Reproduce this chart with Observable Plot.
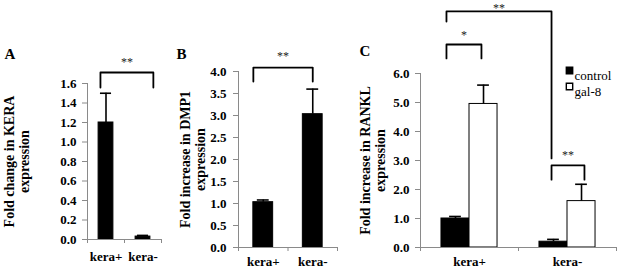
<!DOCTYPE html>
<html><head><meta charset="utf-8">
<script src="https://cdn.jsdelivr.net/npm/d3@7"></script>
<script src="https://cdn.jsdelivr.net/npm/@observablehq/plot@0.6"></script>
<style>
html,body{margin:0;padding:0;background:#fff;}
#fig{position:relative;width:617px;height:269px;overflow:hidden;font-family:"Liberation Serif","Times New Roman",serif;}
#fig svg{position:absolute;top:0;overflow:visible;}
#fig svg text{font-family:"Liberation Serif","Times New Roman",serif;}
</style></head><body><div id="fig"></div>
<script>
// ---------- Panel A ----------
const catsA = ["kera+", "kera-"];
const valA = [1.2, 0.03];
const errA = [0.3, 0.012];
const ticksA = [0, 0.2, 0.4, 0.6, 0.8, 1.0, 1.2, 1.4, 1.6];
const titleA = "Fold change in KERA\nexpression";
const bracketsA = [{from: -0.15, to: 1.28, top: 1.713, left: 1.559, right: 1.559, label: "**"}];

// ---------- Panel B ----------
const catsB = ["kera+", "kera-"];
const valB = [1.03, 3.03];
const errB = [0.05, 0.57];
const ticksB = [0, 0.5, 1.0, 1.5, 2.0, 2.5, 3.0, 3.5, 4.0];
const titleB = "Fold increase in DMP1\nexpression";
const bracketsB = [{from: -0.2, to: 1.0, top: 4.09, left: 3.77, right: 3.77, label: "**"}];

// ---------- Panel C ----------
const groupsC = ["kera+", "kera-"];
const seriesC = ["control", "gal-8"];
const controlC = [1.0, 0.2];
const controlErrC = [0.07, 0.08];
const gal8C = [4.95, 1.6];
const gal8ErrC = [0.65, 0.58];
const ticksC = [0, 1, 2, 3, 4, 5, 6];
const titleC = "Fold increase in RANKL\nexpression";
const bracketsC = [
  {from: -0.235, to: 0.122, top: 7.0, left: 6.52, right: 6.52, label: "*"},
  {from: -0.235, to: 0.837, top: 8.14, left: 7.79, right: 3.07, label: "**"},
  {from: 0.837, to: 1.173, top: 2.83, left: 2.34, right: 2.34, label: "**"}
];
// vertical offset (px) of each star label above its bracket
const starOffsetA = [-10];
const starOffsetB = [-11];
const starOffsetC = [-9, -3, -10];

const FONT = "'Liberation Serif', 'Times New Roman', serif";
const GRAY = "#8a8a8a";

function panel({left, width, marginLeft, marginRight, marginTop, marginBottom,
                cats, rows, yMax, ticks, title, titleDx, letter, letterDx, letterDy,
                brackets, starOffset, capHalf, tickPad, labelPad, extra = []}) {
  const n = cats.length;
  const bounds = d3.range(n + 1).map(i => i - 0.5);
  const bracketLines = brackets.flatMap((b, k) => [
    {k, x: b.from, y: b.left}, {k, x: b.from, y: b.top},
    {k, x: b.to, y: b.top}, {k, x: b.to, y: b.right}
  ]);
  const fmt = d3.format(".1f");
  const svg = Plot.plot({
    width, height: 269, marginLeft, marginRight, marginTop, marginBottom,
    style: `font-family: ${FONT}; font-size: 13px; font-weight: bold; color: black; background: transparent; overflow: visible;`,
    x: {type: "linear", domain: [-0.5, n - 0.5]},
    y: {domain: [0, yMax]},
    marks: [
      Plot.rectY(rows, {x1: "x1", x2: "x2", y1: 0, y2: "v", fill: "fill", stroke: "black", strokeWidth: 1}),
      Plot.ruleX(rows, {x: d => (d.x1 + d.x2) / 2, y1: "v", y2: d => d.v + d.e, stroke: "black", strokeWidth: 1.6}),
      Plot.ruleY(rows, {y: d => d.v + d.e, x1: d => (d.x1 + d.x2) / 2 - capHalf, x2: d => (d.x1 + d.x2) / 2 + capHalf, stroke: "black", strokeWidth: 1.6}),
      Plot.ruleX([-0.5], {y1: 0, y2: yMax, stroke: GRAY, strokeWidth: 1}),
      Plot.ruleY([0], {x1: -0.5, x2: n - 0.5, stroke: GRAY, strokeWidth: 1}),
      // y ticks (marks) and labels
      Plot.axisY({ticks, tickFormat: () => "", tickSize: 5, stroke: GRAY, label: null}),
      Plot.text(ticks, {x: -0.5, y: d => d, text: d => fmt(d), dx: -(5 + tickPad), textAnchor: "end", lineAnchor: "middle",
                  fontFamily: FONT, fontWeight: "bold", fontSize: 13, fill: "black"}),
      // x ticks at category boundaries and category labels
      Plot.axisX({ticks: bounds, tickFormat: () => "", tickSize: 4, stroke: GRAY, label: null}),
      Plot.text(d3.range(n), {x: d => d, y: 0, text: i => cats[i], dy: labelPad, lineAnchor: "top",
                  fontFamily: FONT, fontWeight: "bold", fontSize: 13, fill: "black"}),
      // significance brackets
      Plot.line(bracketLines, {x: "x", y: "y", z: "k", stroke: "black", strokeWidth: 1.8, curve: "linear"}),
      ...brackets.map((b, k) => Plot.text([b], {x: d => (d.from + d.to) / 2, y: "top", text: "label", dy: starOffset[k],
                  fontFamily: FONT, fontSize: 12, fontWeight: "normal", fill: "#222", lineAnchor: "middle"})),
      Plot.text([title], {frameAnchor: "left", rotate: -90, dx: titleDx, text: d => d, lineHeight: 1.05,
                  fontFamily: FONT, fontSize: 14, fontWeight: "bold", textAnchor: "middle", fill: "black"}),
      Plot.text([letter], {frameAnchor: "top-left", dx: letterDx, dy: letterDy, text: d => d,
                  fontFamily: FONT, fontSize: 15, fontWeight: "bold", fill: "black"}),
      ...extra
    ]
  });
  svg.style.left = left + "px";
  document.getElementById("fig").appendChild(svg);
}

// Panel A
panel({
  left: 0, width: 170, marginLeft: 87, marginRight: 9, marginTop: 83, marginBottom: 30,
  cats: catsA,
  rows: catsA.map((c, i) => ({x1: i - 0.2, x2: i + 0.2, v: valA[i], e: errA[i], fill: "black"})),
  yMax: 1.6, ticks: ticksA, title: titleA, titleDx: -71, letter: "A", letterDx: -83, letterDy: -35,
  brackets: bracketsA, starOffset: starOffsetA, capHalf: 0.15, tickPad: 6, labelPad: 12
});

// Panel B
panel({
  left: 170, width: 175, marginLeft: 68, marginRight: 8, marginTop: 71, marginBottom: 22,
  cats: catsB,
  rows: catsB.map((c, i) => ({x1: i - 0.2, x2: i + 0.2, v: valB[i], e: errB[i], fill: "black"})),
  yMax: 4.0, ticks: ticksB, title: titleB, titleDx: -46, letter: "B", letterDx: -62, letterDy: -23,
  brackets: bracketsB, starOffset: starOffsetB, capHalf: 0.12, tickPad: 7, labelPad: 9
});

// Panel C
const rowsC = groupsC.flatMap((g, i) => [
  {x1: i - 0.286, x2: i, v: controlC[i], e: controlErrC[i], fill: "black"},
  {x1: i, x2: i + 0.286, v: gal8C[i], e: gal8ErrC[i], fill: "white"}
]);
const legendC = [
  {name: seriesC[0], fill: "black", dy: -3},
  {name: seriesC[1], fill: "white", dy: 13}
];
panel({
  left: 345, width: 272, marginLeft: 75, marginRight: 1, marginTop: 73, marginBottom: 22,
  cats: groupsC, rows: rowsC,
  yMax: 6.0, ticks: ticksC, title: titleC, titleDx: -48, letter: "C", letterDx: -61, letterDy: -28,
  brackets: bracketsC, starOffset: starOffsetC, capHalf: 0.06, tickPad: 6, labelPad: 9,
  extra: [
    ...legendC.map(l => Plot.dot([l], {frameAnchor: "top-right", dx: -47, dy: l.dy, symbol: "square", r: 3.6, fill: "fill", stroke: "black", strokeWidth: 1.4})),
    ...legendC.map(l => Plot.text([l], {frameAnchor: "top-right", dx: -42, dy: l.dy, text: "name", textAnchor: "start",
                  fontFamily: FONT, fontWeight: "normal", fontSize: 13, fill: "black"}))
  ]
});
</script></body></html>
